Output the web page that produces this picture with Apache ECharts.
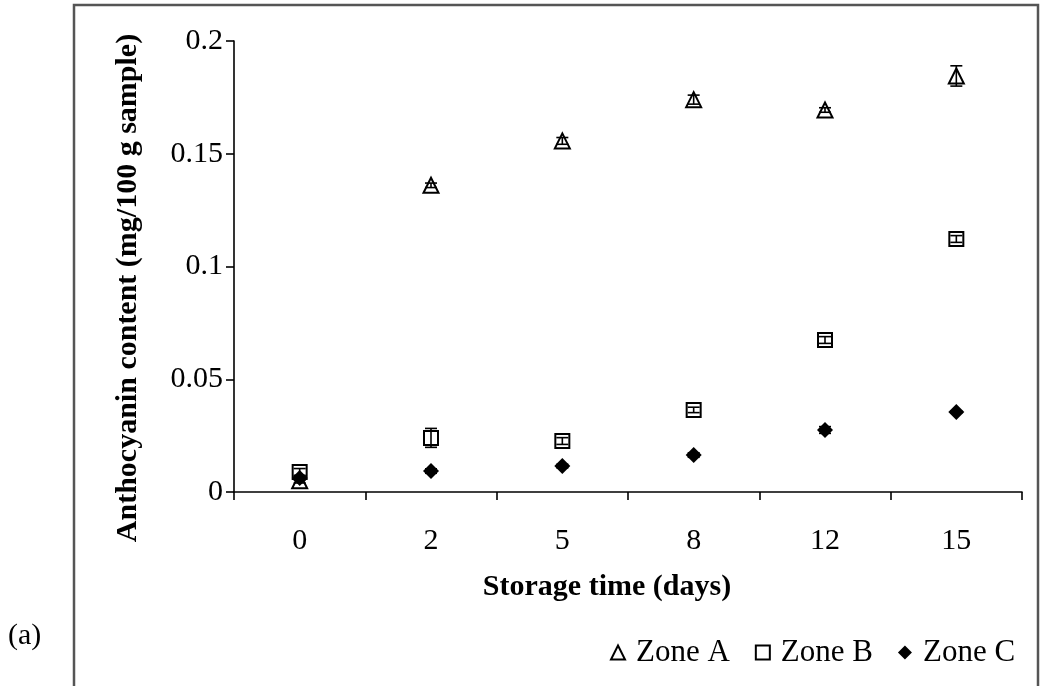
<!DOCTYPE html>
<html><head><meta charset="utf-8">
<script src="https://cdn.jsdelivr.net/npm/echarts@6/dist/echarts.min.js"></script>
<style>html,body{margin:0;padding:0;background:#fff}#c{width:1041px;height:686px}</style>
</head><body><div id="c"></div>
<script>
const categories = ['0', '2', '5', '8', '12', '15'];
const zoneA = [0.005, 0.136, 0.1557, 0.174, 0.1694, 0.1845];
const zoneAErr = [0.001, 0.001, 0.0015, 0.002, 0.001, 0.0045];
const zoneB = [0.0089, 0.024, 0.0226, 0.0364, 0.0674, 0.1122];
const zoneBErr = [0.0015, 0.0042, 0.0015, 0.0012, 0.0015, 0.0015];
const zoneC = [0.0062, 0.0093, 0.0115, 0.0164, 0.0275, 0.0355];
const zoneCErr = [0.001, 0.001, 0.0008, 0.001, 0.0015, 0.0005];
const yTicks = [0, 0.05, 0.1, 0.15, 0.2];
const xTitle = 'Storage time (days)';
const yTitle = 'Anthocyanin content (mg/100 g sample)';

const FONT = '"Liberation Serif", "Times New Roman", serif';

function errSeries(vals, errs) {
  return {
    type: 'custom',
    z: 5,
    silent: true,
    data: vals.map((v, i) => [i, v - errs[i], v + errs[i]]),
    renderItem: function (params, api) {
      const lo = api.coord([api.value(0), api.value(1)]);
      const hi = api.coord([api.value(0), api.value(2)]);
      const hw = 6;
      const st = { stroke: '#000', lineWidth: 1.6 };
      return {
        type: 'group',
        children: [
          { type: 'line', shape: { x1: lo[0], y1: lo[1], x2: hi[0], y2: hi[1] }, style: st },
          { type: 'line', shape: { x1: lo[0] - hw, y1: lo[1], x2: lo[0] + hw, y2: lo[1] }, style: st },
          { type: 'line', shape: { x1: hi[0] - hw, y1: hi[1], x2: hi[0] + hw, y2: hi[1] }, style: st }
        ]
      };
    }
  };
}

const chart = echarts.init(document.getElementById('c'));
chart.setOption({
  animation: false,
  backgroundColor: '#fff',
  graphic: [
    { type: 'polyline', shape: { points: [[74, 700], [74, 5], [1038, 5], [1038, 700]] },
      style: { stroke: '#555', lineWidth: 2.5, fill: null }, z: 0 },
    { type: 'text', x: 8, y: 636, style: { text: '(a)', font: '30px ' + FONT, fill: '#000', verticalAlign: 'middle' } },
    { type: 'text', x: 607, y: 587, style: { text: xTitle, font: 'bold 30px ' + FONT, fill: '#000', align: 'center', verticalAlign: 'middle' } },
    { type: 'text', x: 128, y: 288, rotation: Math.PI / 2,
      style: { text: yTitle, font: 'bold 30px ' + FONT, fill: '#000', align: 'center', verticalAlign: 'middle' } }
  ],
  grid: { left: 234, right: 19, top: 41, bottom: 194 },
  legend: {
    left: 605, top: 632,
    itemWidth: 14, itemHeight: 14, itemGap: 25,
    textStyle: { fontFamily: FONT, fontSize: 31, color: '#000', padding: [0, 0, 0, 6] },
    data: ['Zone A', 'Zone B', 'Zone C']
  },
  xAxis: {
    type: 'category',
    data: categories,
    boundaryGap: true,
    axisLine: { lineStyle: { color: '#000', width: 1.6 } },
    axisTick: { show: true, length: 8, lineStyle: { color: '#000', width: 1.6 } },
    axisLabel: { fontFamily: FONT, fontSize: 30, color: '#000', margin: 34 },
    splitLine: { show: false }
  },
  yAxis: {
    type: 'value',
    min: 0, max: 0.2, interval: 0.05,
    axisLine: { show: true, lineStyle: { color: '#000', width: 1.6 } },
    axisTick: { show: true, length: 8, lineStyle: { color: '#000', width: 1.6 } },
    axisLabel: {
      fontFamily: FONT, fontSize: 30, color: '#000', margin: 11,
      formatter: function (v) {
        for (const t of yTicks) { if (Math.abs(v - t) < 1e-9) return String(t); }
        return '';
      }
    },
    splitLine: { show: false }
  },
  series: [
    { name: 'Zone A', type: 'scatter', data: zoneA, symbol: 'triangle', symbolSize: 15, z: 3,
      itemStyle: { color: '#fff', borderColor: '#000', borderWidth: 2, opacity: 1 } },
    { name: 'Zone B', type: 'scatter', data: zoneB, symbol: 'rect', symbolSize: 14, z: 3,
      itemStyle: { color: '#fff', borderColor: '#000', borderWidth: 2, opacity: 1 } },
    { name: 'Zone C', type: 'scatter', data: zoneC, symbol: 'diamond', symbolSize: 16, z: 3,
      itemStyle: { color: '#000', borderColor: '#000', borderWidth: 0, opacity: 1 } },
    errSeries(zoneA, zoneAErr),
    errSeries(zoneB, zoneBErr),
    errSeries(zoneC, zoneCErr)
  ]
});
</script></body></html>
